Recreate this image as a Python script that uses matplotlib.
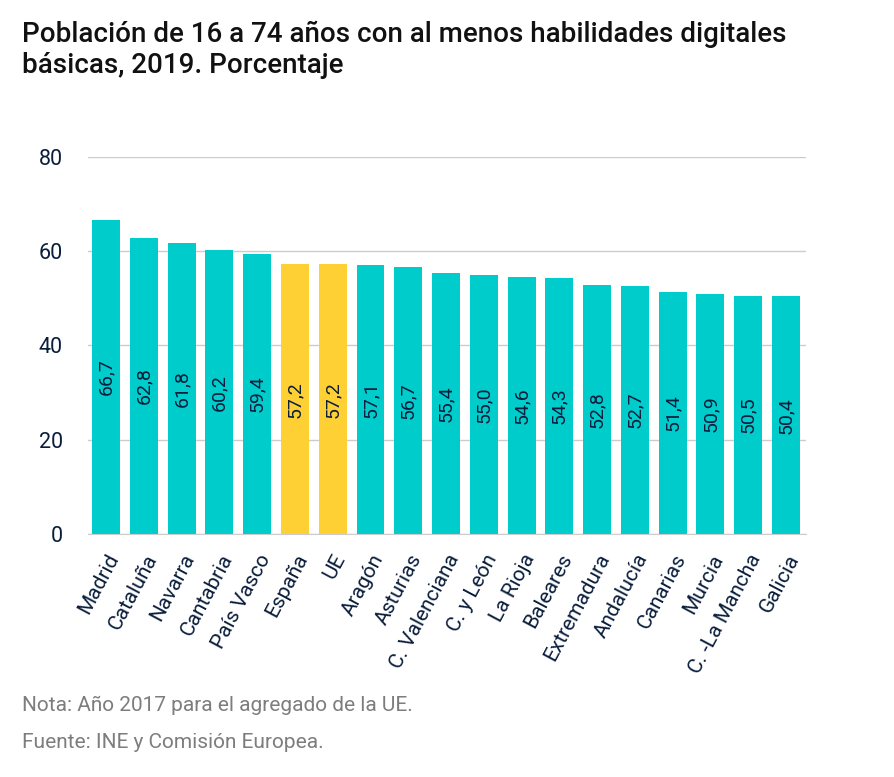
import matplotlib.pyplot as plt

# Data
regiones = ["Madrid", "Cataluña", "Navarra", "Cantabria", "País Vasco", "España", "UE",
            "Aragón", "Asturias", "C. Valenciana", "C. y León", "La Rioja", "Baleares",
            "Extremadura", "Andalucía", "Canarias", "Murcia", "C. -La Mancha", "Galicia"]
valores = [66.7, 62.8, 61.8, 60.2, 59.4, 57.2, 57.2, 57.1, 56.7, 55.4, 55.0, 54.6, 54.3,
           52.8, 52.7, 51.4, 50.9, 50.5, 50.4]
destacados = ["España", "UE"]
yticks = [0, 20, 40, 60, 80]

TEAL = "#00cccc"
YELLOW = "#ffd034"
NAVY = "#0a1e3c"
GREY = "#7d7d7d"

plt.rcParams['font.family'] = ['Roboto', 'DejaVu Sans']

fig = plt.figure(figsize=(8.95, 7.77), dpi=100)
ax = fig.add_axes([0.0983, 0.3127, 0.8023, 0.4853])

colores = [YELLOW if r in destacados else TEAL for r in regiones]
x = range(len(regiones))
ax.bar(x, valores, width=0.74, color=colores, zorder=2)

for i, v in enumerate(valores):
    ax.text(i, v / 2, f"{v:.1f}".replace(".", ","), rotation=90, ha="center", va="center",
            fontsize=14, color=NAVY, zorder=3)

ax.set_ylim(0, 80)
ax.set_xlim(-0.48, len(regiones) - 0.47)
ax.set_yticks(yticks)
ax.set_yticklabels([str(t) for t in yticks], fontsize=15.5, color=NAVY)
ax.yaxis.grid(True, color="#cccccc", linewidth=1, zorder=0)
ax.tick_params(axis="y", length=0, pad=18)
ax.tick_params(axis="x", length=0, pad=12)
ax.set_xticks(list(x))
ax.set_xticklabels(regiones, rotation=62, ha="right", rotation_mode="anchor",
                   fontsize=15, color=NAVY)
for s in ["top", "right", "left"]:
    ax.spines[s].set_visible(False)
ax.spines["bottom"].set_color("#cccccc")

fig.text(0.025, 0.946, "Población de 16 a 74 años con al menos habilidades digitales",
         fontsize=20, fontweight="medium", color="#111111", va="baseline", ha="left")
fig.text(0.025, 0.906, "básicas, 2019. Porcentaje",
         fontsize=20, fontweight="medium", color="#111111", va="baseline", ha="left")
fig.text(0.025, 0.092, "Nota: Año 2017 para el agregado de la UE.", fontsize=15,
         color=GREY, va="center")
fig.text(0.025, 0.045, "Fuente: INE y Comisión Europea.", fontsize=15,
         color=GREY, va="center")

fig.savefig("out.png", dpi=100)
